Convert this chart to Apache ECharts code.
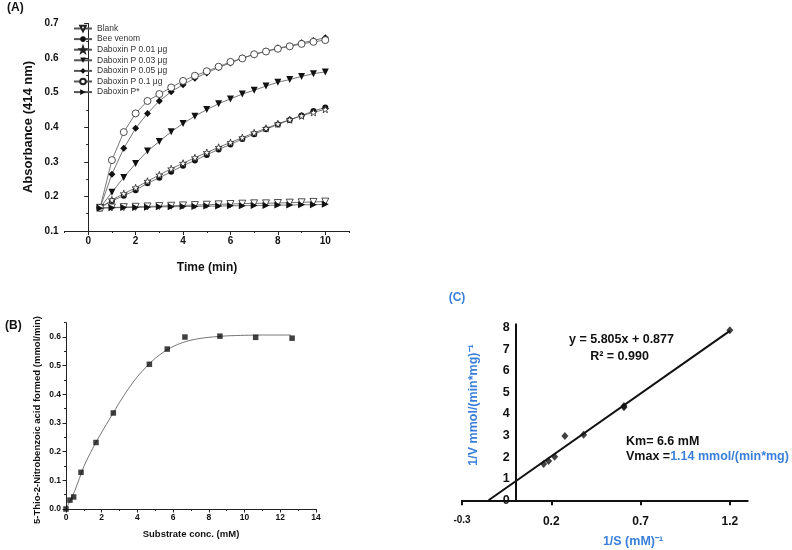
<!DOCTYPE html>
<html><head><meta charset="utf-8">
<script src="https://cdn.jsdelivr.net/npm/echarts@6/dist/echarts.min.js"></script>
<style>html,body{margin:0;padding:0;background:#fff}#c{width:792px;height:550px}</style>
</head><body><div id="c"></div>
<script>
// ---------- Panel A data ----------
const timeMin = [0.5,1,1.5,2,2.5,3,3.5,4,4.5,5,5.5,6,6.5,7,7.5,8,8.5,9,9.5,10];
const blank    = [0.167,0.168,0.169,0.170,0.171,0.172,0.173,0.174,0.175,0.176,0.177,0.178,0.179,0.180,0.180,0.181,0.182,0.183,0.184,0.185];
const beeVenom = [0.167,0.187,0.202,0.218,0.238,0.254,0.271,0.289,0.304,0.320,0.336,0.350,0.366,0.380,0.394,0.408,0.421,0.434,0.447,0.457];
const dab001   = [0.167,0.190,0.208,0.225,0.244,0.262,0.280,0.296,0.312,0.327,0.342,0.356,0.370,0.384,0.397,0.410,0.422,0.433,0.443,0.452];
const dab003   = [0.167,0.212,0.255,0.295,0.331,0.359,0.387,0.411,0.432,0.451,0.468,0.482,0.496,0.507,0.519,0.530,0.538,0.547,0.555,0.560];
const dab005   = [0.167,0.264,0.339,0.397,0.440,0.476,0.503,0.523,0.542,0.557,0.573,0.586,0.600,0.611,0.620,0.629,0.635,0.644,0.651,0.659];
const dab01    = [0.167,0.305,0.386,0.440,0.476,0.496,0.515,0.534,0.549,0.562,0.575,0.589,0.599,0.611,0.619,0.627,0.634,0.641,0.647,0.652];
const dabStar  = [0.166,0.167,0.168,0.168,0.169,0.170,0.170,0.171,0.171,0.172,0.172,0.173,0.173,0.174,0.174,0.175,0.175,0.176,0.176,0.177];
const seriesNamesA = ['Blank','Bee venom','Daboxin P 0.01 μg','Daboxin P 0.03 μg','Daboxin P 0.05 μg','Daboxin P 0.1 μg','Daboxin P*'];
const xLabelsA = [0,2,4,6,8,10];
const xMinorA = [-1,1,3,5,7,9,11];

// ---------- Panel B data ----------
const substrate = [0,0.22,0.43,0.84,1.68,2.65,4.67,5.67,6.66,8.62,10.62,12.66];
const rate      = [0,0.031,0.042,0.128,0.232,0.335,0.505,0.558,0.600,0.603,0.599,0.596];
const fitX = [0,0.5,1,1.5,2,2.5,3,3.5,4,4.5,5,5.5,6,6.5,7,7.5,8,9,10,11,12.6];
const fitY = [0,0.065,0.148,0.212,0.268,0.32,0.372,0.42,0.462,0.496,0.526,0.549,0.567,0.58,0.589,0.595,0.599,0.604,0.606,0.607,0.607];
const yLabelsB = [0,0.1,0.2,0.3,0.4,0.5,0.6];
const yMinorB = [0.05,0.15,0.25,0.35,0.45,0.55,0.65];

// ---------- Panel C data ----------
const invS = [0.157,0.185,0.219,0.276,0.381,0.607,0.607,1.2];
const invV = [1.68,1.82,2.02,2.98,3.04,4.37,4.31,7.88];
const trendX = [-0.151,1.2];
const trendY = [0,7.843];
const xLabelsC = [-0.3,0.2,0.7,1.2];
const yLabelsC = [0,1,2,3,4,5,6,7,8];

const BLUE = '#3a7fd9';
const AR = 'Arial, "Liberation Sans", sans-serif';

const zip = (a,b) => a.map((v,i)=>[v,b[i]]);
const downTri = 'path://M0,0L10,0L5,9Z';
const rightTri = 'path://M0,0L9,5L0,10Z';
const star = 'path://M5,0L6.2,3.6L10,3.7L7,6L8.1,9.6L5,7.5L1.9,9.6L3,6L0,3.7L3.8,3.6Z';
const stylesA = [
  {symbol: downTri, open: true, size: 7},
  {symbol: 'circle', open: false, size: 6},
  {symbol: star, open: true, size: 7},
  {symbol: downTri, open: false, size: 7},
  {symbol: 'diamond', open: false, size: 7},
  {symbol: 'circle', open: true, size: 7},
  {symbol: rightTri, open: false, size: 7}
];
const dataA = [blank, beeVenom, dab001, dab003, dab005, dab01, dabStar];

const seriesA = dataA.map((vals, i) => ({
  name: seriesNamesA[i], type: 'line', xAxisIndex: 0, yAxisIndex: 0,
  data: zip(timeMin, vals),
  symbol: stylesA[i].symbol, symbolSize: stylesA[i].size,
  showAllSymbol: true,
  lineStyle: {color: '#555', width: 0.8},
  itemStyle: stylesA[i].open ? {color: '#fff', borderColor: '#222', borderWidth: 0.8} : {color: '#111', borderColor: '#111', borderWidth: 0},
  emphasis: {disabled: true}, animation: false, z: 3 + i
}));

const tickLabel = (size) => ({color: '#111', fontWeight: 'bold', fontSize: size, fontFamily: AR});

const option = {
  animation: false,
  grid: [
    {left: 64.5, top: 23.5, width: 284.5, height: 207.5},
    {left: 66, top: 322.7, width: 250, height: 186.3},
    {left: 462, top: 324.3, width: 285.7, height: 176}
  ],
  legend: {
    data: seriesNamesA, orient: 'vertical', left: 73, top: 24, padding: 0,
    itemWidth: 18, itemHeight: 7, itemGap: 1.6,
    textStyle: {fontSize: 8.5, lineHeight: 8, color: '#333', fontFamily: AR},
    selectedMode: false
  },
  xAxis: [
    {gridIndex: 0, type: 'value', min: -1, max: 11, position: 'bottom',
     axisLine: {lineStyle: {color: '#222', width: 1}},
     axisTick: {customValues: xLabelsA, length: 4, lineStyle: {color: '#222'}},
     axisLabel: Object.assign({customValues: xLabelsA, margin: 5}, tickLabel(10)),
     splitLine: {show: false}},
    {gridIndex: 0, type: 'value', min: -1, max: 11, position: 'bottom', offset: 0,
     axisLine: {show: false},
     axisTick: {customValues: xMinorA, length: 2, lineStyle: {color: '#222'}},
     axisLabel: {show: false}, splitLine: {show: false}},
    {gridIndex: 1, type: 'value', min: 0, max: 14, interval: 2, position: 'bottom',
     axisLine: {lineStyle: {color: '#222', width: 1}},
     axisTick: {length: 3.5, lineStyle: {color: '#222'}},
     minorTick: {show: true, splitNumber: 2, length: 2, lineStyle: {color: '#222'}},
     axisLabel: Object.assign({margin: 4}, tickLabel(8.5)),
     splitLine: {show: false}},
    {gridIndex: 2, type: 'value', min: -0.3, max: 1.3, position: 'bottom',
     axisLine: {onZero: false, lineStyle: {color: '#111', width: 2}},
     axisTick: {customValues: xLabelsC, length: 5, lineStyle: {color: '#111', width: 2}},
     axisLabel: Object.assign({customValues: xLabelsC, margin: 15,
       formatter: v => v < 0 ? '{s|' + v.toFixed(1) + '}' : v.toFixed(1),
       rich: {s: {fontSize: 10, fontWeight: 'bold', fontFamily: AR, color: '#111'}}}, tickLabel(12)),
     splitLine: {show: false}}
  ],
  yAxis: [
    {gridIndex: 0, type: 'value', min: 0.1, max: 0.7, interval: 0.1, position: 'left',
     axisLine: {show: true, lineStyle: {color: '#222', width: 1}},
     axisTick: {show: true, length: 4, lineStyle: {color: '#222'}},
     minorTick: {show: true, splitNumber: 2, length: 2, lineStyle: {color: '#222'}},
     axisLabel: Object.assign({margin: 6, formatter: v => v.toFixed(1)}, tickLabel(10)),
     splitLine: {show: false}},
    {gridIndex: 1, type: 'value', min: 0, max: 0.65, position: 'left',
     axisLine: {show: true, lineStyle: {color: '#222', width: 1}},
     axisTick: {show: true, customValues: yLabelsB, length: 3.5, lineStyle: {color: '#222'}},
     axisLabel: Object.assign({customValues: yLabelsB, margin: 5, formatter: v => v.toFixed(1)}, tickLabel(8.5)),
     splitLine: {show: false}},
    {gridIndex: 1, type: 'value', min: 0, max: 0.65, position: 'left', offset: 0,
     axisLine: {show: false},
     axisTick: {show: true, customValues: yMinorB, length: 2, lineStyle: {color: '#222'}},
     axisLabel: {show: false}, splitLine: {show: false}},
    {gridIndex: 2, type: 'value', min: 0, max: 8.15, position: 'left', offset: -53.6,
     axisLine: {show: true, onZero: false, lineStyle: {color: '#111', width: 2}},
     axisTick: {show: false},
     axisLabel: Object.assign({customValues: yLabelsC, margin: 6}, tickLabel(12.5)),
     splitLine: {show: false}}
  ],
  series: seriesA.concat([
    {type: 'line', xAxisIndex: 2, yAxisIndex: 1, data: zip(fitX, fitY), smooth: 0.3,
     showSymbol: false, symbol: 'none', lineStyle: {color: '#666', width: 0.9}, z: 2},
    {type: 'scatter', xAxisIndex: 2, yAxisIndex: 1, data: zip(substrate, rate),
     symbol: 'rect', symbolSize: 5.5, itemStyle: {color: '#111'}, z: 3},
    {type: 'line', xAxisIndex: 3, yAxisIndex: 3, data: zip(trendX, trendY),
     showSymbol: false, symbol: 'none', lineStyle: {color: '#111', width: 2}, z: 2},
    {type: 'scatter', xAxisIndex: 3, yAxisIndex: 3, data: zip(invS, invV),
     symbol: 'diamond', symbolSize: [7, 8], itemStyle: {color: '#111'}, z: 3}
  ]),
  graphic: [
    txt('(A)', 7, 7.5, 'bold 12px ' + AR, '#111', 'left'),
    txt('Absorbance (414 nm)', 28, 127, 'bold 13px ' + AR, '#111', 'center', Math.PI/2),
    txt('Time (min)', 207, 268, 'bold 12px ' + AR, '#111', 'center'),
    txt('(B)', 5, 326, 'bold 12px ' + AR, '#111', 'left'),
    txt('5-Thio-2-Nitrobenzoic acid formed (mmol/min)', 37, 420, 'bold 9.5px ' + AR, '#111', 'center', Math.PI/2),
    txt('Substrate conc. (mM)', 191, 534, 'bold 9.5px ' + AR, '#111', 'center'),
    txt('(C)', 457, 298, 'bold 12px ' + AR, BLUE, 'center'),
    txt('1/V mmol/(min*mg)⁻¹', 474, 405, 'bold 12.5px ' + AR, BLUE, 'center', Math.PI/2),
    txt('1/S (mM)⁻¹', 633, 542, 'bold 12.5px ' + AR, BLUE, 'center'),
    txt('y = 5.805x + 0.877', 621.5, 340, 'bold 12.5px ' + AR, '#111', 'center'),
    txt('R² = 0.990', 619.5, 357, 'bold 12.5px ' + AR, '#111', 'center'),
    txt('Km= 6.6 mM', 626, 441.7, 'bold 12.5px ' + AR, '#111', 'left'),
    {type: 'text', x: 626, y: 456.7, style: {text: '{a|Vmax =}{b|1.14 mmol/(min*mg)}',
      align: 'left', verticalAlign: 'middle', textAlign: 'left', textVerticalAlign: 'middle',
      rich: {a: {font: 'bold 12.5px ' + AR, fill: '#111', color: '#111'}, b: {font: 'bold 12.5px ' + AR, fill: BLUE, color: BLUE}}}}
  ]
};

function txt(text, x, y, font, fill, align, rot) {
  return {type: 'text', x: x, y: y, rotation: rot || 0,
    style: {text: text, font: font, fill: fill, align: align, textAlign: align, verticalAlign: 'middle', textVerticalAlign: 'middle'}};
}

const chart = echarts.init(document.getElementById('c'), null, {renderer: 'canvas'});
chart.setOption(option);
</script>
</body></html>
